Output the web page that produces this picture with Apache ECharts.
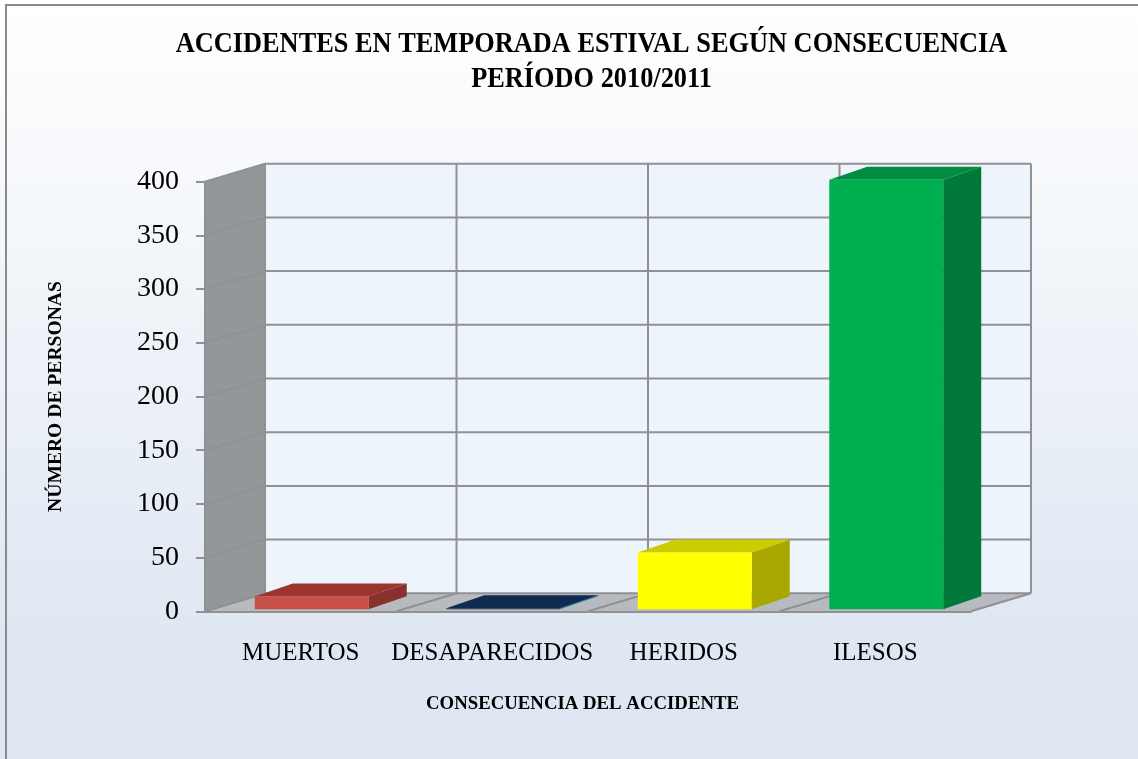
<!DOCTYPE html>
<html>
<head>
<meta charset="utf-8">
<title>Accidentes en temporada estival</title>
<script src="https://cdn.jsdelivr.net/npm/echarts@6/dist/echarts.min.js"></script>
<style>
html, body { margin: 0; padding: 0; background: #fff; }
#main { width: 1138px; height: 759px; }
</style>
</head>
<body>
<div id="main"></div>
<script>
// datos
var categories = ['MUERTOS', 'DESAPARECIDOS', 'HERIDOS', 'ILESOS'];
var personas = [12, 1, 53, 400];
var yTicks = [0, 50, 100, 150, 200, 250, 300, 350, 400];
var titleLines = ['ACCIDENTES EN TEMPORADA ESTIVAL SEGÚN CONSECUENCIA', 'PERÍODO 2010/2011'];

// colores de cada barra: frente, techo, lado
var frontColors = ['#c9504a', '#17375e', '#ffff00', '#00b050'];
var topColors = ['#9c3530', '#0f2c50', '#cccc00', '#008d40'];
var sideColors = ['#8a302c', '#2a8ba0', '#a8a800', '#00793a'];

var FONT = '"Liberation Serif", serif';
var GRID_COLOR = '#8f9194';
// perspectiva de la caja
var WALL_DX = 60, WALL_DY = -18;
var BAR_DX = 38, BAR_DY = -13;
var BAR_SHIFT_X = 11, BAR_SHIFT_Y = -2;
var BAR_RATIO = 0.595;

var chart = echarts.init(document.getElementById('main'));

function poly(points, fill) {
    return { type: 'polygon', shape: { points: points }, style: { fill: fill }, silent: true };
}
function line(x1, y1, x2, y2) {
    return {
        type: 'line',
        shape: { x1: x1, y1: y1, x2: x2, y2: y2 },
        style: { stroke: GRID_COLOR, lineWidth: 2 },
        silent: true
    };
}

// paredes, piso y lineas de la caja 3D
function renderWalls(params, api) {
    var band = api.size([1, 0])[0];
    var n = categories.length;
    var y0 = api.coord([0, 0])[1];
    var yTop = api.coord([0, 400])[1];
    var xl = api.coord([0, 0])[0] - band / 2;
    var xr = xl + band * n;
    var kids = [];
    kids.push(poly([[xl + WALL_DX, yTop + WALL_DY], [xr + WALL_DX, yTop + WALL_DY], [xr + WALL_DX, y0 + WALL_DY], [xl + WALL_DX, y0 + WALL_DY]], '#eef4fb'));
    kids.push(poly([[xl, yTop], [xl + WALL_DX, yTop + WALL_DY], [xl + WALL_DX, y0 + WALL_DY], [xl, y0]], '#939799'));
    kids.push(poly([[xl, y0], [xl + WALL_DX, y0 + WALL_DY], [xr + WALL_DX, y0 + WALL_DY], [xr, y0]], '#b7bbc0'));
    yTicks.forEach(function (v) {
        var y = api.coord([0, v])[1];
        kids.push(line(xl, y, xl + WALL_DX, y + WALL_DY));
        kids.push(line(xl + WALL_DX, y + WALL_DY, xr + WALL_DX, y + WALL_DY));
    });
    for (var i = 0; i <= n; i++) {
        var x = xl + band * i;
        kids.push(line(x, y0, x + WALL_DX, y0 + WALL_DY));
        kids.push(line(x + WALL_DX, y0 + WALL_DY, x + WALL_DX, yTop + WALL_DY));
    }
    return { type: 'group', children: kids };
}

function renderBar(params, api) {
    var i = api.value(0);
    var p = api.coord([i, api.value(1)]);
    var base = api.coord([i, 0]);
    var w = api.size([1, 0])[0] * BAR_RATIO;
    var x1 = p[0] - w / 2 + BAR_SHIFT_X, x2 = x1 + w;
    var yt = p[1] + BAR_SHIFT_Y, yb = base[1] + BAR_SHIFT_Y;
    return {
        type: 'group',
        children: [
            poly([[x2, yt], [x2 + BAR_DX, yt + BAR_DY], [x2 + BAR_DX, yb + BAR_DY], [x2, yb]], sideColors[i]),
            poly([[x1, yt], [x1 + BAR_DX, yt + BAR_DY], [x2 + BAR_DX, yt + BAR_DY], [x2, yt]], topColors[i]),
            poly([[x1, yt], [x2, yt], [x2, yb], [x1, yb]], frontColors[i])
        ]
    };
}

var option = {
    animation: false,
    backgroundColor: {
        type: 'linear', x: 0, y: 0, x2: 0, y2: 1,
        colorStops: [{ offset: 0, color: '#ffffff' }, { offset: 0.85, color: '#dfe7f2' }, { offset: 1, color: '#dde6f1' }]
    },
    grid: { left: 205, top: 181.7, width: 766, height: 429.6 },
    xAxis: {
        type: 'category',
        data: categories,
        name: 'CONSECUENCIA DEL ACCIDENTE',
        nameLocation: 'middle',
        nameGap: 83,
        nameTextStyle: { fontFamily: FONT, fontSize: 18.8, fontWeight: 'bold', color: '#000', padding: [0, 11, 0, 0] },
        axisLine: { lineStyle: { color: GRID_COLOR, width: 2 } },
        axisTick: { length: 9, lineStyle: { color: GRID_COLOR, width: 2 } },
        axisLabel: { fontFamily: FONT, fontSize: 25, color: '#000', margin: 30, interval: 0 },
        z: 3
    },
    yAxis: {
        type: 'value',
        min: 0,
        max: 400,
        interval: 50,
        name: 'NÚMERO DE PERSONAS',
        nameLocation: 'middle',
        nameGap: 139,
        nameTextStyle: { fontFamily: FONT, fontSize: 19.6, fontWeight: 'bold', color: '#000' },
        splitLine: { show: false },
        axisLine: { show: true, lineStyle: { color: GRID_COLOR, width: 2 } },
        axisTick: { show: true, length: 9, lineStyle: { color: GRID_COLOR, width: 2 } },
        axisLabel: { fontFamily: FONT, fontSize: 28, color: '#000', margin: 26 },
        z: 3
    },
    series: [
        { type: 'custom', renderItem: renderWalls, data: [[0, 0]], clip: false, silent: true, z: 1 },
        {
            type: 'custom',
            renderItem: renderBar,
            data: personas.map(function (v, i) { return [i, v]; }),
            encode: { x: 0, y: 1 },
            clip: false,
            z: 5
        }
    ],
    graphic: [{
        type: 'rect',
        shape: { x: 6, y: 5, width: 1180, height: 800 },
        style: { fill: 'none', stroke: '#8a8a8a', lineWidth: 2 },
        silent: true
    }, {
        // titulo mas angosto, como en el original
        type: 'text',
        x: 591.5,
        y: 44,
        scaleX: 0.878,
        style: { text: titleLines[0], font: 'bold 30px ' + FONT, fill: '#000', align: 'center', verticalAlign: 'middle' },
        silent: true
    }, {
        type: 'text',
        x: 591.5,
        y: 79,
        scaleX: 0.878,
        style: { text: titleLines[1], font: 'bold 30px ' + FONT, fill: '#000', align: 'center', verticalAlign: 'middle' },
        silent: true
    }]
};
chart.setOption(option);
</script>
</body>
</html>
